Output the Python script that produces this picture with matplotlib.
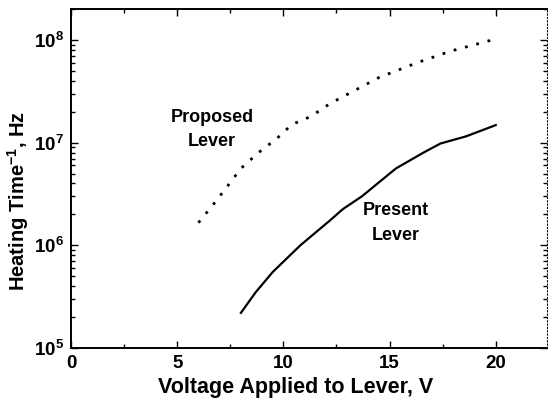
import matplotlib
matplotlib.use("Agg")
import matplotlib.pyplot as plt
import numpy as np
from matplotlib.ticker import LogLocator, MultipleLocator, LogFormatterMathtext, NullFormatter

plt.rcParams['font.family'] = ['Liberation Sans', 'DejaVu Sans']
plt.rcParams['font.weight'] = 'bold'
plt.rcParams['mathtext.fontset'] = 'custom'
plt.rcParams['mathtext.rm'] = 'Liberation Sans:bold'
plt.rcParams['mathtext.bf'] = 'Liberation Sans:bold'
plt.rcParams['mathtext.it'] = 'Liberation Sans:bold'

# heating rate vs applied voltage
v_proposed = [6.0, 6.7, 7.3, 8.0, 8.8, 9.7, 10.4, 11.3, 12.2, 14.5, 16.3, 17.9, 20.0]
f_proposed = [1.66e6, 2.5e6, 3.6e6, 5.6e6, 7.9e6, 1.1e7, 1.5e7, 1.8e7, 2.4e7,
              4.3e7, 6.0e7, 7.8e7, 1.02e8]

v_present = [8.0, 8.7, 9.5, 10.8, 12.2, 12.8, 13.7, 14.5, 15.3, 16.6, 17.4, 18.6, 20.0]
f_present = [2.2e5, 3.5e5, 5.5e5, 1.0e6, 1.75e6, 2.25e6, 3.0e6, 4.1e6, 5.6e6, 8.0e6,
             9.8e6, 1.15e7, 1.48e7]

fig = plt.figure(figsize=(5.48, 4.08), dpi=100)
ax = fig.add_axes([0.1296, 0.147, 0.868, 0.831])

ax.semilogy(v_proposed, f_proposed, color='k', linestyle=(0, (1, 3.2)), linewidth=2.0)
ax.semilogy(v_present, f_present, color='k', linestyle='-', linewidth=1.6)

ax.text(6.65, 1.35e7, 'Proposed\nLever', ha='center', va='center',
        fontsize=13, fontweight='bold', linespacing=1.55)
ax.text(15.3, 1.65e6, 'Present\nLever', ha='center', va='center',
        fontsize=13, fontweight='bold', linespacing=1.55)

ax.set_xlim(0, 22.4)
ax.set_ylim(1e5, 2e8)
ax.xaxis.set_major_locator(MultipleLocator(5))
ax.xaxis.set_minor_locator(MultipleLocator(2.5))
ax.yaxis.set_major_locator(LogLocator(base=10))
ax.yaxis.set_minor_locator(LogLocator(base=10, subs=np.arange(2, 10)))
ax.yaxis.set_major_formatter(LogFormatterMathtext())
ax.yaxis.set_minor_formatter(NullFormatter())

ax.tick_params(which='both', direction='in', top=True, right=True,
               labelsize=13.5, width=1.0)
ax.tick_params(which='major', length=5, pad=5)
ax.tick_params(which='minor', length=3)

for side in ['left', 'bottom', 'top']:
    ax.spines[side].set_linewidth(1.4)
ax.spines['right'].set_linewidth(0.8)
ax.spines['right'].set_linestyle((0, (1, 2)))

ax.set_xlabel('Voltage Applied to Lever, V', fontsize=15.5, fontweight='bold')
ax.set_ylabel('Heating Time$^{-1}$, Hz', fontsize=14.5, fontweight='bold')
ax.xaxis.set_label_coords(0.473, -0.086)
ax.yaxis.set_label_coords(-0.084, 0.434)

plt.savefig('out.png', dpi=100)
